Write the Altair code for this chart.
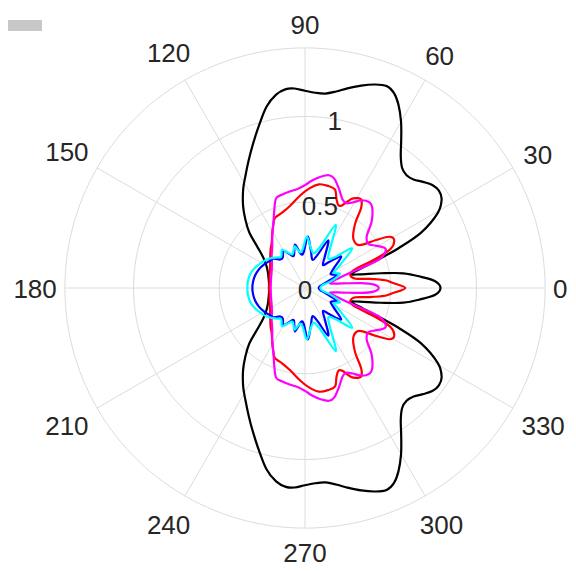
import altair as alt
import pandas as pd
import numpy as np

# ---- data (upper half, 0..180 deg; the pattern is mirror-symmetric) ----
black_theta = [0, 3, 5.5, 8.5, 11, 14, 17, 19.5, 21.6, 23, 25.5, 29.5, 33, 36, 39, 42, 45, 48, 51, 54, 57,
               60, 63, 65.5, 68, 71, 74.5, 78, 81, 84, 87, 90, 93, 95.5, 98.5, 102, 106, 110, 114, 118, 122,
               127, 131, 135, 139, 144, 150, 157, 165, 172, 180]
black_r = [0.79, 0.76, 0.68, 0.58, 0.45, 0.33, 0.28, 0.36, 0.48, 0.59, 0.75, 0.89, 0.95, 0.965, 0.955,
           0.925, 0.895, 0.885, 0.90, 0.95, 1.03, 1.12, 1.20, 1.25, 1.27, 1.255, 1.225, 1.19, 1.16, 1.14,
           1.14, 1.15, 1.165, 1.165, 1.14, 1.08, 0.98, 0.89, 0.81, 0.74, 0.68, 0.60, 0.53, 0.46, 0.37,
           0.30, 0.26, 0.235, 0.22, 0.212, 0.21]

red_theta = [0, 3.5, 5.5, 8, 10.4, 15.5, 20, 22.5, 24.6, 28.2, 31.3, 34, 37, 40, 45, 49, 52.5, 55, 57.5,
             60, 62.5, 65.7, 68, 70.5, 73, 77, 82.3, 87.7, 93, 99.8, 106.6, 111, 114, 120, 126, 132, 140,
             150, 160, 170, 180]
red_r = [0.585, 0.51, 0.47, 0.38, 0.30, 0.275, 0.30, 0.45, 0.55, 0.59, 0.575, 0.50, 0.42, 0.395, 0.40,
         0.43, 0.485, 0.57, 0.61, 0.605, 0.585, 0.53, 0.52, 0.55, 0.60, 0.61, 0.61, 0.58, 0.54, 0.49, 0.46,
         0.45, 0.44, 0.38, 0.33, 0.30, 0.265, 0.235, 0.22, 0.21, 0.21]

magenta_theta = [0, 3, 5, 7, 10, 14, 18, 21, 25, 28, 31, 35, 40, 45, 50, 53, 57, 61, 64, 67, 71, 75, 78,
                 82, 86, 90, 94, 99, 104, 108, 112, 116, 122, 128, 136, 145, 155, 165, 180]
magenta_r = [0.43, 0.40, 0.33, 0.22, 0.15, 0.17, 0.25, 0.46, 0.52, 0.51, 0.48, 0.45, 0.47, 0.55, 0.61,
             0.625, 0.61, 0.57, 0.55, 0.56, 0.61, 0.66, 0.672, 0.655, 0.63, 0.60, 0.58, 0.57, 0.56, 0.548,
             0.48, 0.42, 0.36, 0.31, 0.27, 0.235, 0.215, 0.205, 0.20]

blue_theta = [0, 8, 15, 22, 28, 34, 41, 47, 52, 58, 64, 69, 75, 81, 87, 92, 97, 103, 109, 115, 120, 126,
              131, 137, 143, 150, 158, 166, 173, 180]
blue_r = [0.08, 0.09, 0.13, 0.20, 0.17, 0.20, 0.28, 0.21, 0.17, 0.22, 0.31, 0.21, 0.17, 0.22, 0.30, 0.21,
          0.20, 0.26, 0.20, 0.22, 0.25, 0.22, 0.22, 0.25, 0.26, 0.275, 0.29, 0.30, 0.305, 0.307]

cyan_theta = [0, 8, 15, 22, 28, 33, 40, 46, 52, 58, 64, 69, 75, 81, 88, 93, 98, 104, 110, 116, 121, 127,
              132, 138, 144, 150, 158, 166, 173, 180]
cyan_r = [0.09, 0.10, 0.16, 0.22, 0.19, 0.24, 0.36, 0.25, 0.22, 0.28, 0.41, 0.27, 0.21, 0.23, 0.30, 0.23,
          0.21, 0.25, 0.21, 0.23, 0.26, 0.23, 0.24, 0.26, 0.28, 0.295, 0.315, 0.33, 0.335, 0.336]

angle_ticks = [0, 30, 60, 90, 120, 150, 180, 210, 240, 270, 300, 330]
r_ticks = [0, 0.5, 1]
r_tick_labels = ["0", "0.5", "1"]
r_max = 1.4

series = [
    ("black", black_theta, black_r, "#000000"),
    ("red", red_theta, red_r, "#ff0000"),
    ("magenta", magenta_theta, magenta_r, "#ff00ff"),
    ("blue", blue_theta, blue_r, "#0000ff"),
    ("cyan", cyan_theta, cyan_r, "#00ffff"),
]


def full_loop(theta, r):
    th = list(theta) + [360 - a for a in reversed(theta[1:-1])]
    rr = list(r) + list(reversed(r[1:-1]))
    return th, rr


# ---- geometry (pixels per unit radius and centre position within the view) ----
PX = 171.5
W, H = 560, 562
CX, CY = 297, 280
XMIN = -CX / PX
XMAX = XMIN + W / PX
YMAX = CY / PX
YMIN = YMAX - H / PX

xs = alt.Scale(domain=[XMIN, XMAX], nice=False, zero=False)
ys = alt.Scale(domain=[YMIN, YMAX], nice=False, zero=False)

GRID = "#dcdcdc"
TEXT = "#262626"
FONT = "Liberation Sans"

# grid rings
ring_rows = []
for ring in [0.5, 1.0, r_max]:
    for i, a in enumerate(np.arange(0, 360, 2)):
        ring_rows.append({"ring": ring, "theta": float(a), "idx": i})
rings = alt.Chart(pd.DataFrame(ring_rows)).transform_calculate(
    px="datum.ring*cos(datum.theta*PI/180)", py="datum.ring*sin(datum.theta*PI/180)"
).mark_line(interpolate="linear-closed", stroke=GRID, strokeWidth=1).encode(
    x=alt.X("px:Q", scale=xs, axis=None),
    y=alt.Y("py:Q", scale=ys, axis=None),
    detail="ring:N",
    order="idx:Q",
)

# spokes
spokes = alt.Chart(pd.DataFrame({"theta": angle_ticks})).transform_calculate(
    x0="0", y0="0",
    x1=f"{r_max}*cos(datum.theta*PI/180)", y1=f"{r_max}*sin(datum.theta*PI/180)"
).mark_rule(stroke=GRID, strokeWidth=1).encode(
    x=alt.X("x0:Q", scale=xs, axis=None),
    y=alt.Y("y0:Q", scale=ys, axis=None),
    x2="x1:Q",
    y2="y1:Q",
)

layers = [rings, spokes]

for name, th, rr, col in series:
    fth, frr = full_loop(th, rr)
    df = pd.DataFrame({"theta": fth, "r": frr, "idx": list(range(len(fth)))})
    layers.append(
        alt.Chart(df).transform_calculate(
            px="datum.r*cos(datum.theta*PI/180)", py="datum.r*sin(datum.theta*PI/180)"
        ).mark_line(interpolate="cardinal-closed", color=col, strokeWidth=2.2).encode(
            x=alt.X("px:Q", scale=xs, axis=None),
            y=alt.Y("py:Q", scale=ys, axis=None),
            order="idx:Q",
        )
    )

# angle labels
ang_df = pd.DataFrame({"theta": angle_ticks, "label": [str(a) for a in angle_ticks]})
ang_labels = alt.Chart(ang_df).transform_calculate(
    c="cos(datum.theta*PI/180)", s="sin(datum.theta*PI/180)"
).transform_calculate(
    d=f"(248 + length(datum.label)*7.3*abs(datum.c) + 16*abs(datum.s))/{PX}"
).transform_calculate(
    px="datum.d*datum.c", py="datum.d*datum.s"
).mark_text(font=FONT, fontSize=26, color=TEXT, align="center", baseline="middle", dy=2).encode(
    x=alt.X("px:Q", scale=xs, axis=None),
    y=alt.Y("py:Q", scale=ys, axis=None),
    text="label:N",
)

# radial labels at 80 degrees
r_df = pd.DataFrame({"r": r_ticks, "label": r_tick_labels})
r_labels = alt.Chart(r_df).transform_calculate(
    px="datum.r*cos(80*PI/180)", py="datum.r*sin(80*PI/180)"
).mark_text(font=FONT, fontSize=26, color=TEXT, align="center", baseline="middle", dy=3).encode(
    x=alt.X("px:Q", scale=xs, axis=None),
    y=alt.Y("py:Q", scale=ys, axis=None),
    text="label:N",
)

bar = alt.Chart(pd.DataFrame({"a": [0]})).mark_rect(color="#c8c8c8").encode(
    x=alt.value(0), x2=alt.value(34), y=alt.value(12), y2=alt.value(23)
)

layers += [ang_labels, r_labels, bar]

chart = alt.layer(*layers).properties(
    width=W, height=H, padding=0, autosize=alt.AutoSizeParams(type="none")
).configure_view(stroke=None)

chart.save("out.html", embed_options={"renderer": "svg", "actions": False})
